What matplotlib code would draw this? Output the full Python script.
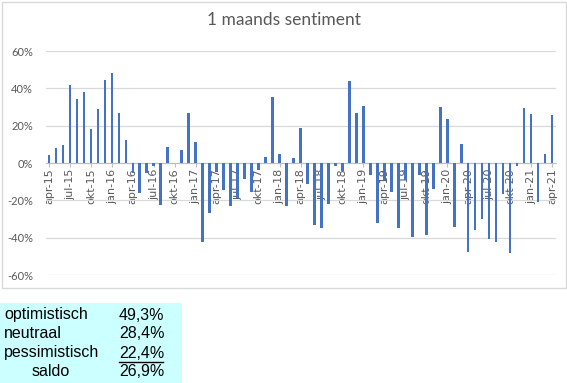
import numpy as np
import matplotlib
matplotlib.use("Agg")
import matplotlib.pyplot as plt
from matplotlib.patches import Rectangle
from matplotlib.lines import Line2D

# maandelijks saldo (%), apr-15 t/m apr-21
saldo = [4.3, 7.9, 9.8, 42.0, 34.5, 38.2, 18.4, 29.1, 44.5, 48.2, 26.6, 12.5,
         -5.5, -16.0, -5.2, -1.4, -22.5, 8.8, 0.0, 7.0, 26.8, 11.4, -42.5, -26.8,
         -5.0, -14.4, -22.9, -19.0, -8.4, -15.5, -4.0, 3.2, 35.1, 4.6, -22.8, 2.5,
         18.7, -11.4, -33.1, -34.6, -21.9, -1.5, -4.3, 44.0, 26.6, 30.4, -6.5, -32.2,
         -9.0, -15.4, -34.9, -9.0, -39.8, -6.4, -38.8, -13.9, 30.0, 23.5, -34.4, 10.1,
         -47.7, -35.7, -29.8, -40.5, -42.1, -16.8, -48.0, -1.5, 29.7, 26.3, -21.0, 5.0,
         25.9]
tick_labels = ['apr-15', 'jul-15', 'okt-15', 'jan-16', 'apr-16', 'jul-16', 'okt-16',
               'jan-17', 'apr-17', 'jul-17', 'okt-17', 'jan-18', 'apr-18', 'jul-18',
               'okt-18', 'jan-19', 'apr-19', 'jul-19', 'okt-19', 'jan-20', 'apr-20',
               'jul-20', 'okt-20', 'jan-21', 'apr-21']
y_ticks = [-60, -40, -20, 0, 20, 40, 60]

tabel_namen = ['optimistisch', 'neutraal', 'pessimistisch', 'saldo']
tabel_waarden = ['49,3%', '28,4%', '22,4%', '26,9%']

W, H = 567, 383
fig = plt.figure(figsize=(W / 100, H / 100), dpi=100)
grey = '#595959'

def fx(px):
    return px / W

def fy(py):
    return 1 - py / H

# kader om de grafiek
fig.patches.append(Rectangle((fx(1.5), fy(288)), fx(564), 286.5 / H,
                             transform=fig.transFigure, fill=False,
                             edgecolor='#d9d9d9', lw=1))

ax = fig.add_axes([fx(45.5), fy(275), fx(510), 224 / H])
x = np.arange(len(saldo))
ax.bar(x, saldo, width=0.38, color='#4472C4', zorder=3)
ax.set_xlim(-0.5, len(saldo) - 0.5)
ax.set_ylim(-60, 60)

ax.set_yticks(y_ticks)
ax.set_yticklabels([f'{v}%' for v in y_ticks])
ax.tick_params(axis='y', length=0, pad=9, labelsize=8, labelcolor=grey)
ax.grid(axis='y', color='#d9d9d9', lw=0.9, zorder=0)

ax.set_xticks(np.arange(0, len(saldo), 3))
ax.set_xticklabels(tick_labels)
ax.tick_params(axis='x', length=3, color='#bfbfbf', pad=1, labelsize=8,
               labelcolor=grey, labelrotation=90)
for lab in ax.get_xticklabels() + ax.get_yticklabels():
    lab.set_family('Lato')
ax.spines['bottom'].set_position(('data', 0))
ax.spines['bottom'].set_color('#bfbfbf')
for s in ['left', 'right', 'top']:
    ax.spines[s].set_visible(False)

fig.text(fx(284), fy(20), '1 maands sentiment', ha='center', va='center',
         fontsize=12.5, color=grey, family='Lato')

# tabel onder de grafiek
fig.patches.append(Rectangle((0, 0), fx(182), 80 / H, transform=fig.transFigure,
                             facecolor='#ccffff', edgecolor='none'))
rij_y = [315, 334, 353, 372]
for naam, waarde, ry in zip(tabel_namen, tabel_waarden, rij_y):
    if naam == 'saldo':
        fig.text(fx(51), fy(ry), naam, ha='center', va='center', fontsize=11.5,
                 family='Liberation Sans', color='black')
    else:
        fig.text(fx(4), fy(ry), naam, ha='left', va='center', fontsize=11.5,
                 family='Liberation Sans', color='black')
    fig.text(fx(119), fy(ry), waarde, ha='left', va='center', fontsize=11.5,
             family='Liberation Sans', color='black')
fig.lines.append(Line2D([fx(119), fx(163)], [fy(362), fy(362)],
                        transform=fig.transFigure, color='black', lw=1))

fig.savefig('out.png', dpi=100)
